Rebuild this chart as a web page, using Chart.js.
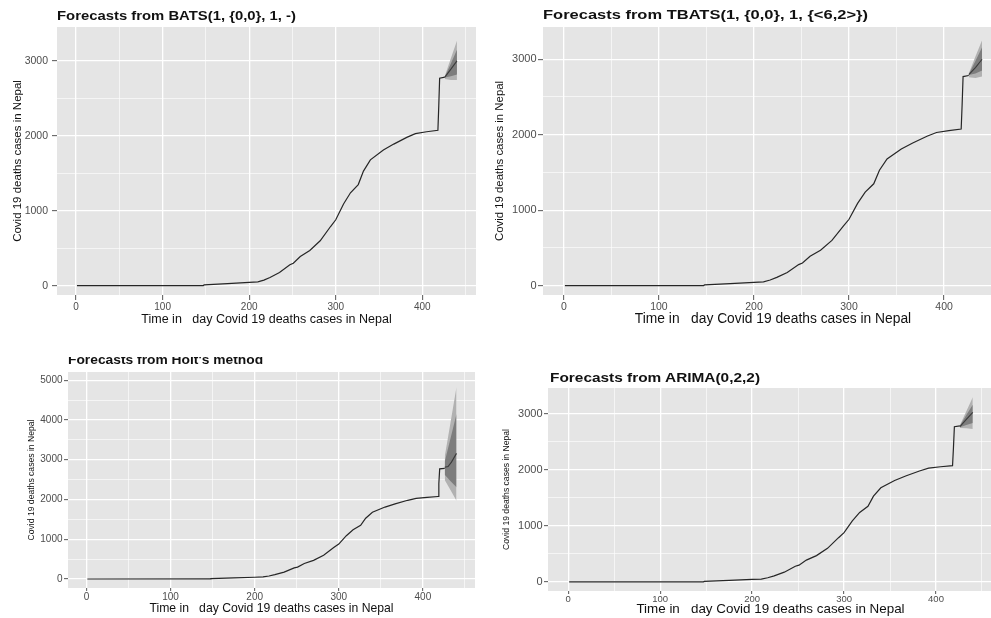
<!DOCTYPE html>
<html>
<head>
<meta charset="utf-8">
<script src="https://cdn.jsdelivr.net/npm/chart.js@4.4.1/dist/chart.umd.min.js"></script>
<style>
  html, body { margin: 0; padding: 0; background: #fff; width: 991px; height: 618px; overflow: hidden; }
  .panel { position: absolute; }
  .panel canvas { display: block; }
  .title-clip { position: absolute; overflow: hidden; }
  .title {
    position: absolute; left: 0;
    font: bold 13px "Liberation Sans", Arial, sans-serif;
    color: #111; white-space: pre; line-height: 1; transform-origin: 0 0;
  }
</style>
</head>
<body>
<script>
// ── Data ────────────────────────────────────────────────────
// cumulative Covid-19 deaths in Nepal, by day
const actualDays   = [1, 147, 148, 175, 200, 210, 217, 224, 235, 247, 251, 259, 270, 282, 294, 300, 309, 317, 326, 332, 340, 355, 367, 382, 392, 405, 418, 419, 420, 426];
const actualDeaths = [0, 2, 10, 28, 45, 52, 75, 110, 175, 280, 300, 390, 470, 600, 790, 880, 1090, 1240, 1350, 1530, 1680, 1810, 1890, 1980, 2030, 2055, 2075, 2400, 2770, 2785];

const fcDays = [426, 433, 440];

const batsMean = [2785, 2890, 3000];
const batsLo80 = [2780, 2795, 2820];
const batsHi80 = [2790, 2965, 3150];
const batsLo95 = [2760, 2745, 2745];
const batsHi95 = [2800, 3035, 3270];

const tbatsMean = [2795, 2890, 3000];
const tbatsLo80 = [2790, 2810, 2850];
const tbatsHi80 = [2800, 2975, 3160];
const tbatsLo95 = [2760, 2750, 2770];
const tbatsHi95 = [2810, 3035, 3250];

const holtMeanDays = [426, 430, 434, 440];
const holtMean = [2810, 2830, 2940, 3160];
const holtLo80 = [2620, 2460, 2310];
const holtHi80 = [2950, 3550, 4150];
const holtLo95 = [2490, 2230, 1970];
const holtHi95 = [3080, 3950, 4830];

const arimaMean = [2770, 2900, 3025];
const arimaLo80 = [2760, 2800, 2835];
const arimaHi80 = [2785, 2980, 3160];
const arimaLo95 = [2745, 2740, 2730];
const arimaHi95 = [2795, 3045, 3295];

const xTicks     = [0, 100, 200, 300, 400];
const yTicksTop  = [0, 1000, 2000, 3000];
const yTicksHolt = [0, 1000, 2000, 3000, 4000, 5000];

const xTitle = 'Time in   day Covid 19 deaths cases in Nepal';
const yTitle = 'Covid 19 deaths cases in Nepal';

// ── Look ────────────────────────────────────────────────────
const FONT     = "'Liberation Sans', Arial, sans-serif";
const PANEL_BG = '#e5e5e5';
const LINE     = '#262626';
const FAN80    = '#7d7d7d';
const FAN95    = '#b1b1b1';
const TICK_TXT = '#4d4d4d';

const panels = [
  {
    title: 'Forecasts from BATS(1, {0,0}, 1, -)',
    mean: batsMean, meanDays: fcDays, lo80: batsLo80, hi80: batsHi80, lo95: batsLo95, hi95: batsHi95,
    yTicks: yTicksTop, yMin: -124, yMax: 3453,
    box: { left: 0, top: 0, w: 495, h: 330 }, area: { left: 57, top: 27, right: 476, bottom: 295 },
    head: { left: 57, top: 8.5, width: 239 },
    yTick: { size: 10.5, len: 5, pad: 4 }, xTick: { size: 10, len: 5, pad: 1 },
    yName: { size: 11.5, pad: 11 }, xName: { size: 12.5, pad: 3 },
  },
  {
    title: 'Forecasts from TBATS(1, {0,0}, 1, {<6,2>})',
    mean: tbatsMean, meanDays: fcDays, lo80: tbatsLo80, hi80: tbatsHi80, lo95: tbatsLo95, hi95: tbatsHi95,
    yTicks: yTicksTop, yMin: -123, yMax: 3427,
    box: { left: 492, top: 0, w: 515, h: 330 }, area: { left: 543, top: 27, right: 1003, bottom: 295 },
    head: { left: 543, top: 8, width: 325 },
    yTick: { size: 11, len: 5, pad: 1.5 }, xTick: { size: 10.5, len: 5, pad: 1 },
    yName: { size: 11.4, pad: 1.2 }, xName: { size: 13.8, pad: 2.2 },
  },
  {
    title: "Forecasts from Holt's method",
    mean: holtMean, meanDays: holtMeanDays, lo80: holtLo80, hi80: holtHi80, lo95: holtLo95, hi95: holtHi95,
    yTicks: yTicksHolt, yMin: -226, yMax: 5207,
    box: { left: 0, top: 345, w: 495, h: 273 }, area: { left: 68, top: 372, right: 475, bottom: 588 },
    head: { left: 68, top: 353.3, width: 195, clip: 356.7 },
    yTick: { size: 10, len: 4, pad: 1.5 }, xTick: { size: 10, len: 3, pad: 0.5 },
    yName: { size: 8.6, pad: 26.6 }, xName: { size: 12.2, pad: 2 },
  },
  {
    title: 'Forecasts from ARIMA(0,2,2)',
    mean: arimaMean, meanDays: fcDays, lo80: arimaLo80, hi80: arimaHi80, lo95: arimaLo95, hi95: arimaHi95,
    yTicks: yTicksTop, yMin: -161, yMax: 3460,
    box: { left: 492, top: 345, w: 515, h: 273 }, area: { left: 548, top: 388, right: 993, bottom: 591 },
    head: { left: 550, top: 371.3, width: 210 },
    yTick: { size: 11, len: 4, pad: 1.5 }, xTick: { size: 9.5, len: 3, pad: 0 },
    yName: { size: 8.6, pad: 9.6 }, xName: { size: 13.4, pad: 0.8 },
  },
];

// grey panel behind the grid, like ggplot
const panelBg = {
  id: 'panelBg',
  beforeDraw(chart) {
    const { ctx, chartArea: a } = chart;
    ctx.save();
    ctx.fillStyle = PANEL_BG;
    ctx.fillRect(a.left, a.top, a.right - a.left, a.bottom - a.top);
    ctx.restore();
  },
};

function pts(days, vals) {
  return days.map((d, i) => ({ x: d, y: vals[i] }));
}

function lineSet(days, vals, color, width) {
  return { data: pts(days, vals), borderColor: color, borderWidth: width, pointRadius: 0, fill: false, tension: 0 };
}

function bandSet(days, vals, fillColor) {
  return {
    data: pts(days, vals), borderWidth: 0, borderColor: 'rgba(0,0,0,0)', pointRadius: 0, tension: 0,
    backgroundColor: fillColor || 'rgba(0,0,0,0)', fill: fillColor ? '+1' : false,
  };
}

// major ticks come from the tick arrays, minor ones sit half way between
function gridTicks(majors, min, max) {
  const half = (majors[1] - majors[0]) / 2;
  const out = [];
  for (let v = Math.ceil(min / half) * half; v <= max; v += half) out.push({ value: v });
  return out;
}

function axisStyle(majors, tick, min, max) {
  const isMajor = v => majors.includes(v);
  return {
    type: 'linear', min: min, max: max,
    border: { display: false },
    afterBuildTicks: s => { s.ticks = gridTicks(majors, min, max); },
    grid: {
      color: '#ffffff',
      lineWidth: c => (c.tick && isMajor(c.tick.value) ? 1.3 : 0.6),
      drawTicks: true,
      tickLength: tick.len,
      tickWidth: 1,
      tickColor: c => (c.tick && isMajor(c.tick.value) ? '#555' : 'rgba(0,0,0,0)'),
    },
    ticks: {
      autoSkip: false, includeBounds: false, maxRotation: 0, padding: tick.pad,
      color: TICK_TXT, font: { family: FONT, size: tick.size },
      callback: v => (isMajor(v) ? String(v) : ''),
    },
  };
}

function makeChart(p) {
  const wrap = document.createElement('div');
  wrap.className = 'panel';
  wrap.style.left = p.box.left + 'px';
  wrap.style.top = p.box.top + 'px';
  const canvas = document.createElement('canvas');
  canvas.width = p.box.w;
  canvas.height = p.box.h;
  wrap.appendChild(canvas);
  document.body.appendChild(wrap);

  new Chart(canvas, {
    type: 'line',
    data: {
      datasets: [
        lineSet(actualDays, actualDeaths, LINE, 1.2),
        lineSet(p.meanDays, p.mean, '#3a3a3a', 1.1),
        bandSet(fcDays, p.hi80, FAN80),
        bandSet(fcDays, p.lo80, null),
        bandSet(fcDays, p.hi95, FAN95),
        bandSet(fcDays, p.lo95, null),
      ],
    },
    options: {
      responsive: false,
      animation: false,
      events: [],
      layout: {
        padding: {
          left: 0, bottom: 0,
          top: p.area.top - p.box.top,
          right: p.box.left + p.box.w - p.area.right,
        },
      },
      plugins: { legend: { display: false }, tooltip: { enabled: false } },
      scales: {
        x: {
          ...axisStyle(xTicks, p.xTick, -22, 462),
          title: {
            display: true, text: xTitle, color: '#111',
            font: { family: FONT, size: p.xName.size }, padding: { top: 0, bottom: p.xName.pad },
          },
          afterFit: s => { s.height = p.box.top + p.box.h - p.area.bottom; },
        },
        y: {
          ...axisStyle(p.yTicks, p.yTick, p.yMin, p.yMax),
          title: {
            display: true, text: yTitle, color: '#111',
            font: { family: FONT, size: p.yName.size }, padding: { top: p.yName.pad, bottom: 0 },
          },
          afterFit: s => { s.width = p.area.left - p.box.left; },
        },
      },
    },
    plugins: [panelBg],
  });
}

function placeTitle(p) {
  const h = p.head;
  const clipTop = h.clip !== undefined ? h.clip : h.top - 4;
  const holder = document.createElement('div');
  holder.className = 'title-clip';
  holder.style.left = h.left + 'px';
  holder.style.top = clipTop + 'px';
  holder.style.width = (h.width + 20) + 'px';
  holder.style.height = (h.top - clipTop + 18) + 'px';
  const span = document.createElement('span');
  span.className = 'title';
  span.textContent = p.title;
  span.style.top = (h.top - clipTop) + 'px';
  holder.appendChild(span);
  document.body.appendChild(holder);
  const w = span.getBoundingClientRect().width;
  span.style.transform = 'scaleX(' + (h.width / w).toFixed(3) + ')';
}

panels.forEach(p => { makeChart(p); placeTitle(p); });
</script>
</body>
</html>
